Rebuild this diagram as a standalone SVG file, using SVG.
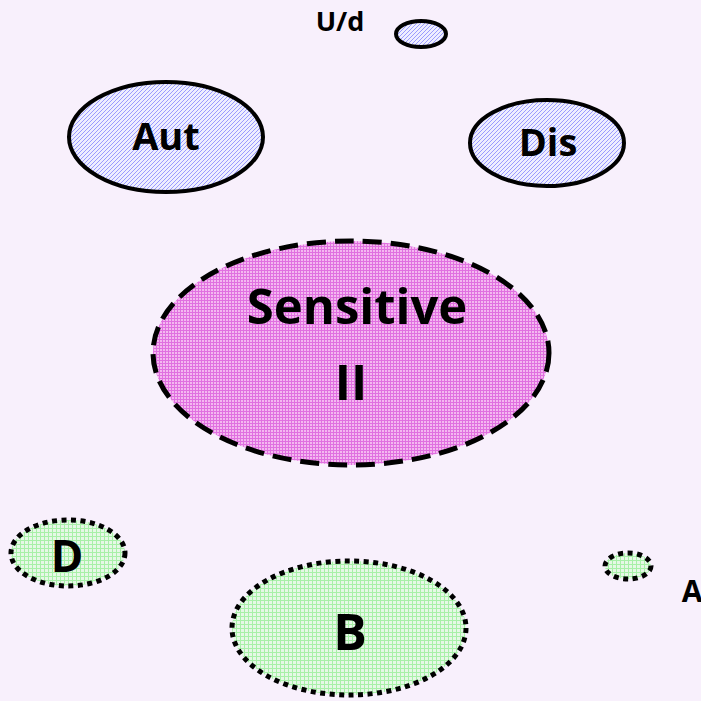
<svg xmlns="http://www.w3.org/2000/svg" width="701" height="701" viewBox="0 0 701 701">
<defs>
<pattern id="pBlue" width="4" height="4" patternUnits="userSpaceOnUse">
<rect width="4" height="4" fill="#eeeeff"/>
<g fill="#9a9aff" shape-rendering="crispEdges">
<rect x="0" y="3" width="1" height="1"/>
<rect x="1" y="2" width="1" height="1"/>
<rect x="2" y="1" width="1" height="1"/>
<rect x="3" y="0" width="1" height="1"/>
</g>
</pattern>
<pattern id="pPink" width="3" height="3" patternUnits="userSpaceOnUse">
<rect width="3" height="3" fill="#f4b8f0"/>
<path d="M0,0.5 H3 M0.5,0 V3" stroke="#e070e0" stroke-width="1"/>
</pattern>
<pattern id="pGreen" width="4" height="4" patternUnits="userSpaceOnUse">
<rect width="4" height="4" fill="#e6f8e6"/>
<path d="M0,0.5 H4 M0.5,0 V4" stroke="#a8f0a8" stroke-width="1"/>
</pattern>
</defs>
<style>
.t{font-family:"Open Sans","DejaVu Sans",sans-serif;font-weight:bold;fill:#000;text-anchor:middle}
.solid{fill:url(#pBlue);stroke:#000;stroke-width:4}
.dash{fill:url(#pPink);stroke:#000;stroke-width:5;stroke-dasharray:19 9}
.dot{fill:url(#pGreen);stroke:#000;stroke-width:5;stroke-dasharray:5 4.5}
</style>
<rect width="701" height="701" fill="#f8f0fc"/>
<g id="connectors"/>
<g id="ud">
<ellipse class="solid" cx="421" cy="34" rx="25" ry="13"/>
<text class="t" x="340" y="31" font-size="27">U/d</text>
</g>
<g id="aut">
<ellipse class="solid" cx="166" cy="137" rx="97" ry="55"/>
<text class="t" x="166" y="150" font-size="38">Aut</text>
</g>
<g id="dis">
<ellipse class="solid" cx="547" cy="143" rx="77" ry="43"/>
<text class="t" x="548" y="156" font-size="38">Dis</text>
</g>
<g id="sensitive">
<ellipse class="dash" cx="351" cy="353" rx="198" ry="112"/>
<text class="t" x="357" y="324" font-size="49">Sensitive</text>
<text class="t" x="351" y="400" font-size="49">II</text>
</g>
<g id="d">
<ellipse class="dot" cx="68" cy="553" rx="57" ry="33"/>
<text class="t" x="67" y="572" font-size="44">D</text>
</g>
<g id="a">
<ellipse class="dot" cx="628" cy="566" rx="23" ry="13"/>
<text class="t" x="692" y="602" font-size="30">A</text>
</g>
<g id="b">
<ellipse class="dot" cx="349" cy="628" rx="117" ry="67"/>
<text class="t" x="350" y="650" font-size="50">B</text>
</g>
</svg>
